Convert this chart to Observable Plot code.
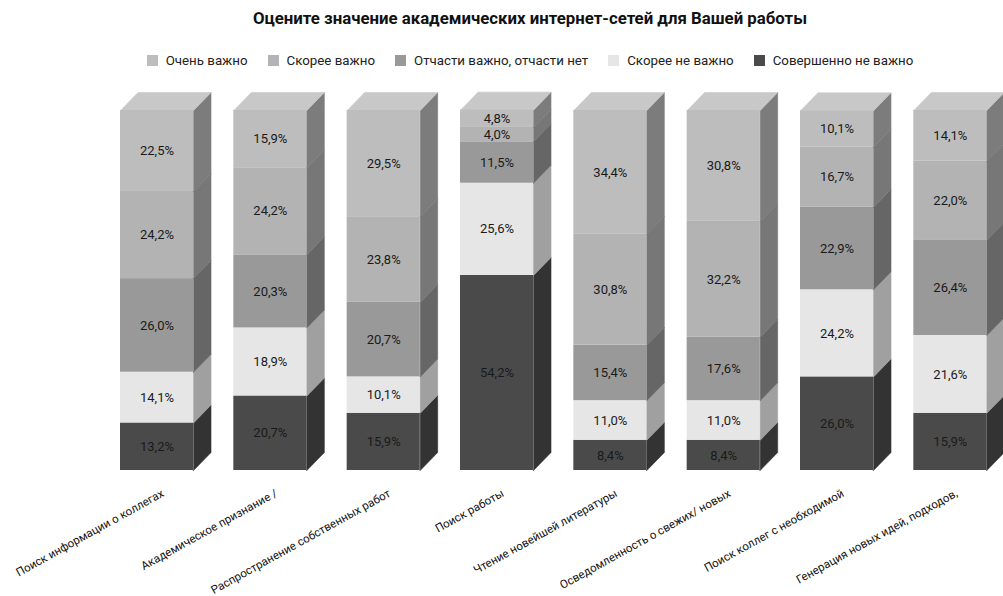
<!DOCTYPE html>
<html><head><meta charset="utf-8">
<script src="https://cdn.jsdelivr.net/npm/d3@7"></script>
<script src="https://cdn.jsdelivr.net/npm/@observablehq/plot@0.6"></script>
<style>
body{margin:0;background:#fff;font-family:Roboto,"Noto Sans",sans-serif;}
#head{height:80px;position:relative;width:1003px;}
#title{position:absolute;left:57px;width:946px;top:8px;text-align:center;font-weight:bold;font-size:16.8px;color:#111;}
#legend{position:absolute;left:57px;width:946px;top:53px;display:flex;justify-content:center;font-size:13.3px;color:#222;}
.item{display:flex;align-items:center;margin:0 10px;}
.sw{width:11px;height:11px;margin-right:8px;}
</style></head><body>
<div id="head"><div id="title">Оцените значение академических интернет-сетей для Вашей работы</div><div id="legend"></div></div>
<div id="chart"></div>
<script>
const categories = [
  "Поиск информации о коллегах",
  "Академическое признание /",
  "Распространение собственных работ",
  "Поиск работы",
  "Чтение новейшей литературы",
  "Осведомленность о свежих/ новых",
  "Поиск коллег с необходимой",
  "Генерация новых идей, подходов,"
];
const seriesNames = ["Очень важно","Скорее важно","Отчасти важно, отчасти нет","Скорее не важно","Совершенно не важно"];
const veryImportant   = [22.5, 15.9, 29.5, 4.8, 34.4, 30.8, 10.1, 14.1];
const ratherImportant = [24.2, 24.2, 23.8, 4.0, 30.8, 32.2, 16.7, 22.0];
const partlyImportant = [26.0, 20.3, 20.7, 11.5, 15.4, 17.6, 22.9, 26.4];
const ratherNot       = [14.1, 18.9, 10.1, 25.6, 11.0, 11.0, 24.2, 21.6];
const notAtAll        = [13.2, 20.7, 15.9, 54.2, 8.4, 8.4, 26.0, 15.9];
const frontColors = ["#bdbdbd","#b3b3b3","#999999","#e6e6e6","#4a4a4a"];
const sideColors  = ["#7c7c7c","#777777","#666666","#a0a0a0","#333333"];
const topColor = "#c8c8c8";

const seriesValues = [veryImportant, ratherImportant, partlyImportant, ratherNot, notAtAll];
// legend
const legend = document.getElementById("legend");
seriesNames.forEach((n, k) => {
  const it = document.createElement("div"); it.className = "item";
  const sw = document.createElement("div"); sw.className = "sw"; sw.style.background = frontColors[k];
  const tx = document.createElement("span"); tx.textContent = n;
  it.appendChild(sw); it.appendChild(tx); legend.appendChild(it);
});

const W = 73 / 113.33;   // front face width in category units
const D = 17.5 / 113.33; // depth in category units
const DY = 5;            // depth in percent units

const stackOrder = [4, 3, 2, 1, 0];
const segments = [];
const polys = [];
categories.forEach((c, i) => {
  let y0 = 0;
  stackOrder.forEach(k => {
    const v = seriesValues[k][i];
    const y1 = y0 + v;
    segments.push({i, k, v, y0, y1, fill: frontColors[k]});
    const id = `s${i}-${k}`;
    [[i + W, y0], [i + W + D, y0 + DY], [i + W + D, y1 + DY], [i + W, y1]].forEach(([x, y]) =>
      polys.push({id, x, y, fill: sideColors[k]}));
    y0 = y1;
  });
  const id = `t${i}`;
  [[i, y0], [i + D, y0 + DY], [i + W + D, y0 + DY], [i + W, y0]].forEach(([x, y]) =>
    polys.push({id, x, y, fill: topColor}));
});

const fmt = v => v.toFixed(1).replace(".", ",") + "%";

const chart = Plot.plot({
  width: 1003,
  height: 516,
  margin: 0,
  x: {domain: [0, 7], range: [120, 913.33], axis: null},
  y: {domain: [0, 100], range: [390, 30], axis: null},
  color: {type: "identity"},
  style: {fontFamily: "Roboto, 'Noto Sans', sans-serif", background: "#fff"},
  marks: [
    Plot.line(polys, {x: "x", y: "y", z: "id", fill: "fill", stroke: "fill", strokeWidth: 0.6, curve: "linear-closed"}),
    Plot.rect(segments, {x1: d => d.i, x2: d => d.i + W, y1: "y0", y2: "y1", fill: "fill"}),
    Plot.text(segments, {x: d => d.i + W / 2, y: d => (d.y0 + d.y1) / 2, text: d => fmt(d.v), fill: "#1a1a1a", fontSize: 13}),
    Plot.text(categories, {x: (d, i) => i + W / 2, y: 0, text: d => d, rotate: -29, textAnchor: "end", dx: 6, dy: 22, fontSize: 11.5, fill: "#111"})
  ]
});
document.getElementById("chart").appendChild(chart);
</script>
</body></html>
